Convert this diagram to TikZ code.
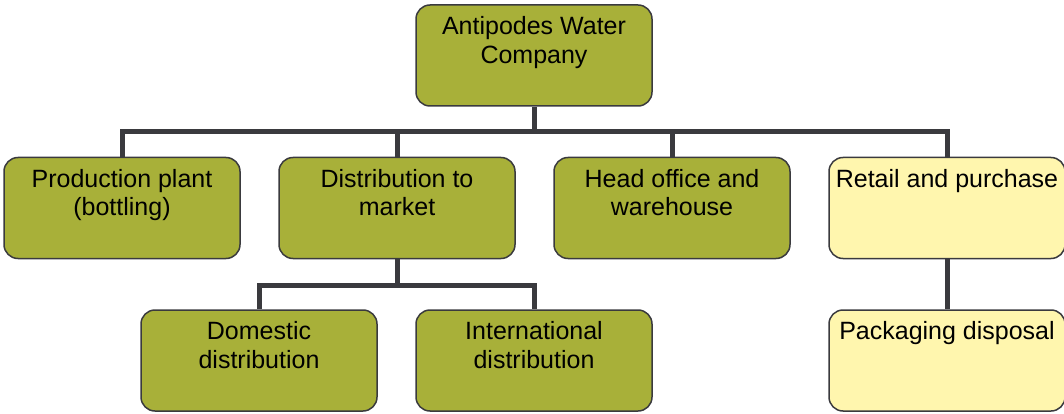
\documentclass[tikz,border=0pt]{standalone}
\usepackage{fontspec}
\setmainfont{Liberation Sans}
\usetikzlibrary{backgrounds}
\definecolor{olive}{RGB}{168,176,57}
\definecolor{pale}{RGB}{255,246,174}
\definecolor{edge}{RGB}{58,58,62}
\tikzset{
  box/.style={draw=edge, line width=1.5pt, rounded corners=14pt, minimum width=236pt, minimum height=101pt, inner sep=0pt},
  green/.style={box, fill=olive},
  yellow/.style={box, fill=pale},
  lbl/.style={anchor=north, inner sep=0pt, align=center, font=\fontsize{25}{28.5}\selectfont, yshift=-12pt},
  wire/.style={draw=edge, line width=5pt, line join=miter}
}
\begin{document}
\begin{tikzpicture}[x=1pt,y=-1pt]
\useasboundingbox (0,0) rectangle (1064,414);
\node[green] (top) at (534,55.5) {};
\node[green] (p1) at (122,208) {};
\node[green] (p2) at (397,208) {};
\node[green] (p3) at (672,208) {};
\node[yellow] (p4) at (947,208) {};
\node[green] (d1) at (259,360.5) {};
\node[green] (d2) at (534,360.5) {};
\node[yellow] (r1) at (947,360.5) {};
\coordinate (bus) at (534,132);
\coordinate (bus2) at (397,285);
\begin{scope}[on background layer]
\draw[wire] (top.south) -- (bus) -| (p1.north);
\draw[wire] (bus) -| (p2.north);
\draw[wire] (bus) -| (p3.north);
\draw[wire] (bus) -| (p4.north);
\draw[wire] (p2.south) -- (bus2) -| (d1.north);
\draw[wire] (bus2) -| (d2.north);
\draw[wire] (p4.south) -- (r1.north);
\end{scope}
\node[lbl] (t0) at (top.north) {Antipodes Water\\Company};
\node[lbl] (t1) at (p1.north) {Production plant\\(bottling)};
\node[lbl] (t2) at (p2.north) {Distribution to\\market};
\node[lbl] (t3) at (p3.north) {Head office and\\warehouse};
\node[lbl] (t4) at (p4.north) {Retail and purchase};
\node[lbl] (t5) at (d1.north) {Domestic\\distribution};
\node[lbl] (t6) at (d2.north) {International\\distribution};
\node[lbl] (t7) at (r1.north) {Packaging disposal};
\end{tikzpicture}
\end{document}
